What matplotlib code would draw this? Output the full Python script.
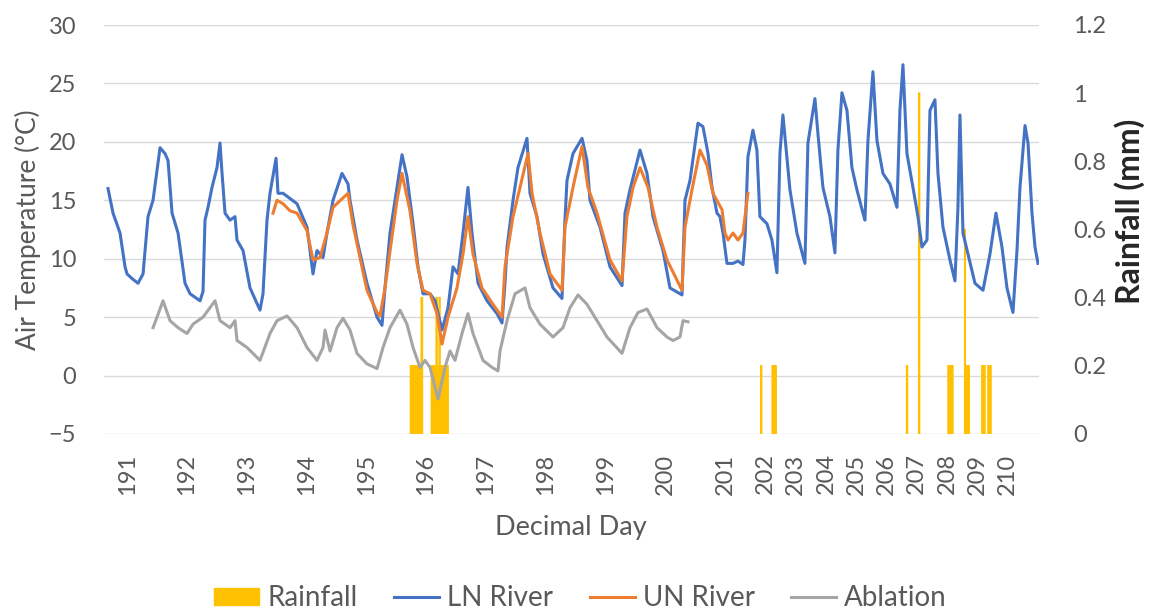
import numpy as np
import matplotlib
matplotlib.use("Agg")
import matplotlib.pyplot as plt
from matplotlib.lines import Line2D
from matplotlib.patches import Patch

plt.rcParams['font.family'] = ['Lato', 'DejaVu Sans']

# LN River air temperature (decimal day, degC)
ln_day = [
    190.682, 190.766, 190.883, 190.967, 191.000, 191.084, 191.184, 191.268, 191.351, 191.435,
    191.552, 191.635, 191.686, 191.753, 191.853, 191.970, 192.054, 192.221, 192.271, 192.304,
    192.355, 192.421, 192.505, 192.555, 192.589, 192.639, 192.722, 192.806, 192.839, 192.940,
    193.057, 193.224, 193.274, 193.341, 193.391, 193.492, 193.525, 193.609, 193.843, 194.010,
    194.110, 194.177, 194.278, 194.344, 194.445, 194.595, 194.696, 194.729, 194.846, 195.013,
    195.181, 195.264, 195.314, 195.398, 195.515, 195.599, 195.682, 195.783, 195.866, 195.950,
    196.067, 196.151, 196.268, 196.368, 196.452, 196.535, 196.619, 196.702, 196.769, 196.870,
    197.020, 197.187, 197.271, 197.321, 197.355, 197.455, 197.538, 197.689, 197.739, 197.856,
    197.957, 198.124, 198.274, 198.324, 198.358, 198.458, 198.609, 198.692, 198.742, 198.910,
    199.077, 199.278, 199.328, 199.411, 199.579, 199.696, 199.796, 199.963, 200.080, 200.281,
    200.331, 200.415, 200.548, 200.632, 200.716, 200.783, 200.866, 200.916, 200.967, 201.033,
    201.134, 201.217, 201.301, 201.334, 201.416, 201.581, 201.714, 201.813, 202.044, 202.210,
    202.375, 202.474, 202.573, 202.705, 202.805, 203.036, 203.300, 203.400, 203.631, 203.730,
    203.895, 204.127, 204.292, 204.391, 204.524, 204.689, 204.854, 205.019, 205.218, 205.284,
    205.383, 205.548, 205.681, 205.879, 206.110, 206.342, 206.441, 206.540, 206.672, 206.871,
    207.036, 207.168, 207.334, 207.433, 207.598, 207.697, 207.862, 208.093, 208.259, 208.358,
    208.424, 208.524, 208.689, 208.920, 209.185, 209.416, 209.614, 209.813, 209.978, 210.176,
    210.309, 210.408, 210.574, 210.673, 210.805, 210.904, 211.003,
]
ln_temp = [
    16.0, 13.9, 12.2, 9.3, 8.7, 8.3, 7.9, 8.7, 13.6, 15.0,
    19.5, 19.0, 18.4, 13.9, 12.2, 7.9, 7.0, 6.4, 7.2, 13.3,
    14.4, 16.1, 17.8, 19.9, 17.3, 13.9, 13.3, 13.6, 11.6, 10.7,
    7.5, 5.6, 7.0, 13.3, 15.6, 18.6, 15.6, 15.6, 14.7, 12.7,
    8.7, 10.7, 10.1, 12.2, 15.0, 17.3, 16.4, 15.0, 11.6, 7.9,
    5.0, 4.3, 7.5, 12.2, 16.1, 18.9, 17.0, 13.0, 9.3, 7.0,
    7.0, 6.4, 3.9, 5.8, 9.3, 8.7, 12.2, 16.1, 12.2, 7.9,
    6.4, 5.3, 4.5, 7.9, 11.0, 15.0, 17.8, 20.3, 15.6, 13.6,
    10.4, 7.5, 6.6, 13.3, 16.7, 19.0, 20.3, 18.4, 15.0, 12.7,
    9.3, 7.7, 13.9, 15.9, 19.3, 17.3, 13.6, 10.7, 7.5, 6.9,
    15.0, 16.7, 21.6, 21.3, 19.0, 16.1, 13.9, 13.6, 12.2, 9.6,
    9.6, 9.8, 9.5, 11.6, 18.7, 21.0, 19.3, 13.6, 13.0, 11.6,
    8.8, 19.0, 22.3, 18.7, 15.9, 12.2, 9.6, 19.9, 23.7, 20.7,
    16.1, 13.6, 10.5, 19.3, 24.2, 22.7, 17.8, 15.9, 13.9, 13.3,
    20.1, 26.0, 20.1, 17.3, 16.4, 14.4, 22.7, 26.6, 19.0, 16.1,
    13.6, 11.0, 11.6, 22.7, 23.6, 17.3, 12.7, 9.9, 8.1, 14.4,
    22.3, 12.2, 10.4, 7.9, 7.3, 10.4, 13.9, 11.0, 7.5, 5.4,
    10.7, 16.1, 21.4, 19.9, 13.9, 11.0, 9.6,
]

# UN River air temperature
un_day = [
    193.441, 193.508, 193.609, 193.726, 193.843, 194.010, 194.110, 194.227, 194.344, 194.445,
    194.696, 194.779, 195.013, 195.181, 195.231, 195.314, 195.515, 195.599, 195.732, 195.849,
    195.950, 196.067, 196.184, 196.268, 196.368, 196.518, 196.619, 196.702, 196.786, 196.936,
    197.120, 197.271, 197.321, 197.455, 197.572, 197.706, 197.773, 197.906, 198.074, 198.274,
    198.324, 198.458, 198.609, 198.709, 198.860, 199.077, 199.278, 199.361, 199.462, 199.579,
    199.712, 199.863, 200.030, 200.281, 200.331, 200.448, 200.582, 200.699, 200.799, 200.950,
    201.000, 201.050, 201.134, 201.217, 201.301, 201.416,
]
un_temp = [
    13.9, 15.0, 14.7, 14.1, 13.9, 12.4, 9.9, 10.1, 12.2, 14.4,
    15.6, 12.9, 7.3, 5.4, 5.1, 7.5, 15.0, 17.3, 14.1, 9.6,
    7.3, 7.0, 5.3, 2.7, 5.0, 7.5, 10.4, 13.6, 10.4, 7.5,
    6.1, 5.0, 9.3, 13.6, 16.1, 19.0, 15.6, 12.2, 8.7, 7.3,
    12.7, 16.1, 19.6, 16.1, 13.9, 9.9, 8.1, 13.6, 16.1, 17.8,
    16.1, 12.7, 9.9, 7.3, 12.7, 15.9, 19.3, 18.0, 15.6, 14.2,
    12.2, 11.6, 12.2, 11.6, 12.2, 15.6,
]

# Ablation-zone air temperature
abl_day = [
    191.435, 191.502, 191.602, 191.719, 191.853, 192.003, 192.104, 192.271, 192.472, 192.555,
    192.722, 192.806, 192.839, 193.007, 193.224, 193.391, 193.508, 193.676, 193.843, 194.010,
    194.177, 194.278, 194.311, 194.395, 194.512, 194.612, 194.729, 194.846, 195.013, 195.181,
    195.281, 195.398, 195.565, 195.682, 195.783, 195.900, 195.983, 196.067, 196.201, 196.318,
    196.401, 196.485, 196.602, 196.702, 196.786, 196.953, 197.104, 197.204, 197.237, 197.355,
    197.488, 197.656, 197.739, 197.906, 198.124, 198.291, 198.408, 198.542, 198.692, 198.860,
    199.027, 199.278, 199.411, 199.545, 199.696, 199.863, 200.030, 200.130, 200.247, 200.298,
    200.381,
]
abl_temp = [
    4.1, 5.0, 6.4, 4.7, 4.1, 3.6, 4.4, 5.0, 6.4, 4.7,
    4.1, 4.7, 3.0, 2.4, 1.3, 3.6, 4.7, 5.1, 4.1, 2.4,
    1.3, 2.4, 3.9, 2.1, 4.1, 4.9, 3.9, 1.9, 1.0, 0.6,
    2.4, 4.1, 5.6, 4.4, 2.4, 0.7, 1.3, 0.7, -2.0, 0.7,
    2.1, 1.3, 3.6, 5.3, 3.6, 1.3, 0.7, 0.4, 2.1, 4.7,
    7.0, 7.5, 5.8, 4.4, 3.3, 4.1, 5.8, 6.9, 6.1, 4.7,
    3.3, 1.9, 4.1, 5.4, 5.7, 4.1, 3.3, 3.0, 3.3, 4.7,
    4.6,
]

# Rainfall records: start / end of each logged period and depth (mm)
rain_start = [195.74, 195.79, 195.92, 196.09, 196.17, 196.185, 196.22, 196.235,
              201.84, 202.22, 206.66, 207.06, 208.03, 208.58, 208.60, 209.15, 209.35]
rain_end = [195.77, 195.92, 195.94, 196.17, 196.185, 196.22, 196.235, 196.37,
            201.87, 202.35, 206.69, 207.09, 208.19, 208.60, 208.73, 209.25, 209.45]
rain_mm = [0.2, 0.2, 0.4, 0.2, 0.4, 0.2, 0.4, 0.2,
           0.2, 0.2, 0.2, 1.0, 0.2, 0.6, 0.2, 0.2, 0.2]

day_ticks = list(range(191, 211))
temp_ticks = list(range(-5, 31, 5))
rain_ticks = [0, 0.2, 0.4, 0.6, 0.8, 1.0, 1.2]

# The logger interval doubles after day 201.35, so the later record takes
# half the axis length per day.
BREAK = 201.35
COMPRESS = 0.506


def fwd(d):
    d = np.asarray(d, dtype=float)
    return np.where(d <= BREAK, d, BREAK + (d - BREAK) * COMPRESS)


def inv(p):
    p = np.asarray(p, dtype=float)
    return np.where(p <= BREAK, p, BREAK + (p - BREAK) / COMPRESS)


BLUE = '#4472C4'
ORANGE = '#ED7D31'
GREY = '#A5A5A5'
GOLD = '#FFC000'
TXT = '#595959'

W, H = 1150, 611
fig = plt.figure(figsize=(W / 100, H / 100), dpi=100)
left, right, top, bottom = 104, 1038.5, 25, 434
rect = [left / W, 1 - bottom / H, (right - left) / W, (bottom - top) / H]

# base axes: temperature scale and gridlines
ax = fig.add_axes(rect)
ax.set_xscale('function', functions=(fwd, inv))
ax.set_xlim(190.615, 211.02)
ax.set_ylim(-5, 30)
ax.set_yticks(temp_ticks)
ax.set_xticks(day_ticks)
ax.set_xticklabels([str(d) for d in day_ticks], rotation=90)
ax.xaxis.set_minor_locator(matplotlib.ticker.NullLocator())
ax.grid(axis='y', color='#D9D9D9', lw=1.0)
ax.grid(axis='x', visible=False)
ax.tick_params(axis='y', length=0, labelsize=17, colors=TXT, pad=20)
ax.tick_params(axis='x', length=0, labelsize=17, colors=TXT, pad=14)
for s in ax.spines.values():
    s.set_visible(False)

# rainfall columns on the secondary axis
axr = ax.twinx()
axr.set_ylim(0, 1.2)
axr.set_yticks(rain_ticks)
axr.set_yticklabels(['0', '0.2', '0.4', '0.6', '0.8', '1', '1.2'])
axr.tick_params(axis='y', length=0, labelsize=17, colors=TXT, pad=25)
for s in axr.spines.values():
    s.set_visible(False)
widths = [e - s for s, e in zip(rain_start, rain_end)]
axr.bar(rain_start, rain_mm, width=widths, align='edge', color=GOLD,
        edgecolor=GOLD, linewidth=1.1, snap=False)

# temperature series drawn above the columns
axl = fig.add_axes(rect, sharex=ax, sharey=ax)
axl.patch.set_visible(False)
axl.axis('off')
axl.set_zorder(axr.get_zorder() + 1)
axl.plot(ln_day, ln_temp, color=BLUE, lw=2.2, solid_joinstyle='round')
axl.plot(un_day, un_temp, color=ORANGE, lw=2.2, solid_joinstyle='round')
axl.plot(abl_day, abl_temp, color=GREY, lw=2.2, solid_joinstyle='round')

fig.text((left + right) / 2 / W, 1 - 528 / H, 'Decimal Day', ha='center', va='center',
         fontsize=19.5, color=TXT)
fig.text(28 / W, 1 - 230 / H, 'Air Temperature (°C)', ha='center', va='center',
         rotation=90, fontsize=19, color=TXT)
fig.text(1130 / W, 1 - 211 / H, 'Rainfall (mm)', ha='center', va='center',
         rotation=90, fontsize=23, color='#262626', fontweight='bold')

handles = [Patch(facecolor=GOLD, edgecolor=GOLD),
           Line2D([], [], color=BLUE, lw=2.2),
           Line2D([], [], color=ORANGE, lw=2.2),
           Line2D([], [], color=GREY, lw=2.2)]
fig.legend(handles, ['Rainfall', 'LN River', 'UN River', 'Ablation'],
           loc='center', bbox_to_anchor=(0.505, 1 - 598 / H), ncol=4, frameon=False,
           fontsize=20, handlelength=1.62, handleheight=0.55, handletextpad=0.3,
           columnspacing=1.3, labelcolor=TXT)

fig.savefig('out.png', dpi=100)
